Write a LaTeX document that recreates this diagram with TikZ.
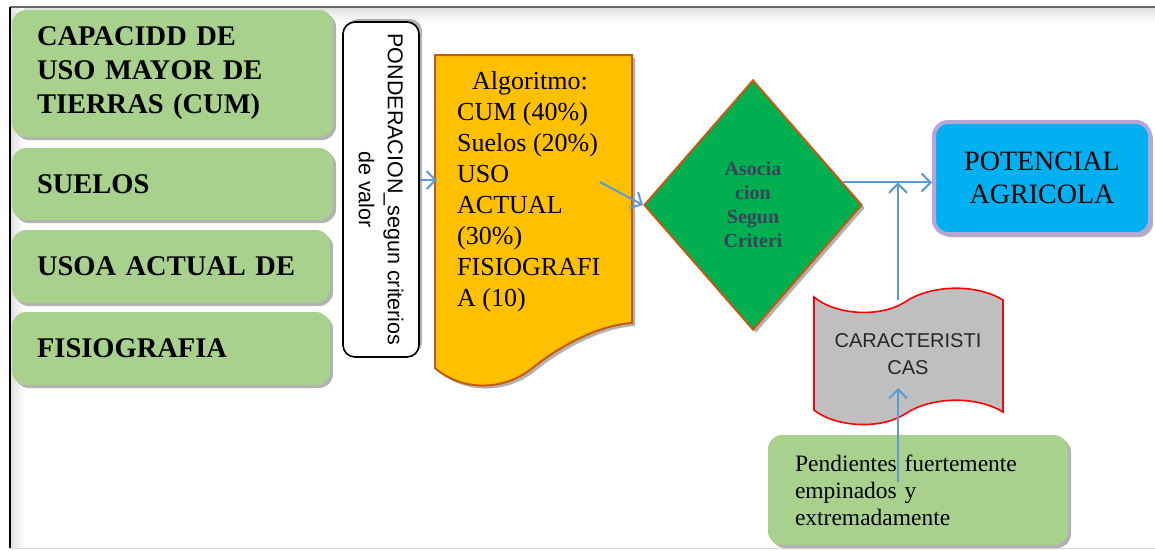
\documentclass[tikz,border=0pt]{standalone}
\usepackage{fontspec}
\setmainfont{Liberation Serif}
\setsansfont{Liberation Sans}
\usetikzlibrary{shapes.geometric,arrows.meta,shadows,calc}
\definecolor{gboxc}{HTML}{A9D18E}
\definecolor{orng}{HTML}{FFC000}
\definecolor{orbrd}{HTML}{C55A11}
\definecolor{dgreen}{HTML}{00B050}
\definecolor{cyanb}{HTML}{00B0F0}
\definecolor{lav}{HTML}{B4A7D6}
\definecolor{abl}{HTML}{5B9BD5}
\definecolor{slate}{HTML}{3E405E}
\definecolor{grayf}{HTML}{BFBFBF}
\begin{document}
\begin{tikzpicture}[x=1pt,y=-1pt,
  shad/.style={drop shadow={shadow xshift=3pt,shadow yshift=-3pt,opacity=0.3,fill=black}},
  greenbox/.style={rectangle, rounded corners=14pt, fill=gboxc, shad, inner ysep=0pt,
    inner xsep=25pt, align=left},
  bigbold/.style={font=\fontsize{28.5}{34}\selectfont\bfseries},
  arr/.style={draw=abl, line width=2pt, -{Straight Barb[length=9pt,width=18pt,line width=2pt]}}]
\useasboundingbox (0,0) rectangle (1155,550);
% frame
\shade[top color=black!12, bottom color=white] (11,8) rectangle (1155,22);
\shade[left color=black!12, right color=white] (11,8) rectangle (24,548);
\draw[line width=1.5pt, black!60] (10,7) -- (1155,7);
\draw[line width=1.5pt, black] (10,7) -- (10,548);
\draw[line width=1pt, black!15] (10,548) -- (1155,548);

% left green boxes
\node[greenbox, bigbold, text width=271pt, minimum height=127pt] (g1) at (172.5,73.5)
  {CAPACIDD DE\\USO MAYOR DE\\TIERRAS (CUM)};
\node[greenbox, bigbold, text width=271pt, minimum height=72pt] (g2) at (172.5,184) {SUELOS};
\node[greenbox, bigbold, text width=268pt, minimum height=73pt] (g3) at (171,266.5) {USOA ACTUAL DE};
\node[greenbox, bigbold, text width=268pt, minimum height=73pt] (g4) at (171,348.5) {FISIOGRAFIA};

% ponderacion box
\node[draw=black, line width=1.6pt, fill=white, rounded corners=12pt, rotate=-90,
  minimum width=335pt, minimum height=76pt, inner sep=0pt, align=center,
  font=\sffamily\fontsize{21.5}{29}\selectfont,
  drop shadow={shadow xshift=3pt,shadow yshift=3pt,opacity=0.3,fill=black}]
  (pond) at (381,189.5) {PONDERACION\_segun criterios\\de valor};

% algorithm document
\path[fill=orng, draw=orbrd, line width=2pt, shad]
  (435,55) -- (632,55) -- (632,323)
  .. controls (600,325) and (560,345) .. (530,370)
  .. controls (500,392) and (460,390) .. (435,368) -- cycle;
\node[anchor=north west, align=left, inner sep=0pt, font=\fontsize{26}{31}\selectfont]
  (alg) at (457,71) {\hspace*{15pt}Algoritmo:\\CUM (40\%)\\Suelos (20\%)\\USO\\ACTUAL\\(30\%)\\FISIOGRAFI\\A (10)};

% diamond
\node[diamond, draw=orbrd, fill=dgreen, line width=2pt, minimum width=218pt,
  minimum height=250pt, inner sep=0pt, align=center, text=slate,
  font=\fontsize{20}{24}\selectfont\bfseries, shad] (dia) at (753,205)
  {Asocia\\cion\\Segun\\Criteri};

% potencial
\node[rectangle, rounded corners=14pt, fill=cyanb, draw=lav, line width=4pt,
  minimum width=216pt, minimum height=112pt, align=center,
  font=\fontsize{28}{33}\selectfont, shad] (pot) at (1042,178) {POTENCIAL\\AGRICOLA};

% caracteristicas tape
\path[fill=grayf, draw=red, line width=1.6pt]
  (814,297) .. controls (835,315) and (880,318) .. (905,302)
  .. controls (930,285) and (975,283) .. (1003,300) -- (1003,412)
  .. controls (975,395) and (930,397) .. (905,414)
  .. controls (880,430) and (835,427) .. (814,410) -- cycle;
\node[font=\sffamily\fontsize{20}{27}\selectfont, align=center, text=black!85]
  (car) at (908,354) {CARACTERISTI\\CAS};

% pendientes
\node[greenbox, text width=246pt, inner xsep=27pt, minimum height=110pt,
  font=\fontsize{23.5}{27}\selectfont] (pen) at (918,490)
  {Pendientes fuertemente\\empinados y\\extremadamente};

% connectors
\coordinate (algin) at (437,180);
\coordinate (algout) at (600,182);
\coordinate (cartop) at (898,300);
\coordinate (carin) at (898,388);
\coordinate (penin) at (898,482);
\draw[arr] (pond.north |- algin) -- (algin);
\draw[arr] (algout) -- (dia.west);
\draw[arr] (dia.14) -- (dia.14 -| pot.west);
\draw[arr] (cartop) -- (cartop |- dia.14);
\draw[arr] (penin) -- (carin);
\end{tikzpicture}
\end{document}
